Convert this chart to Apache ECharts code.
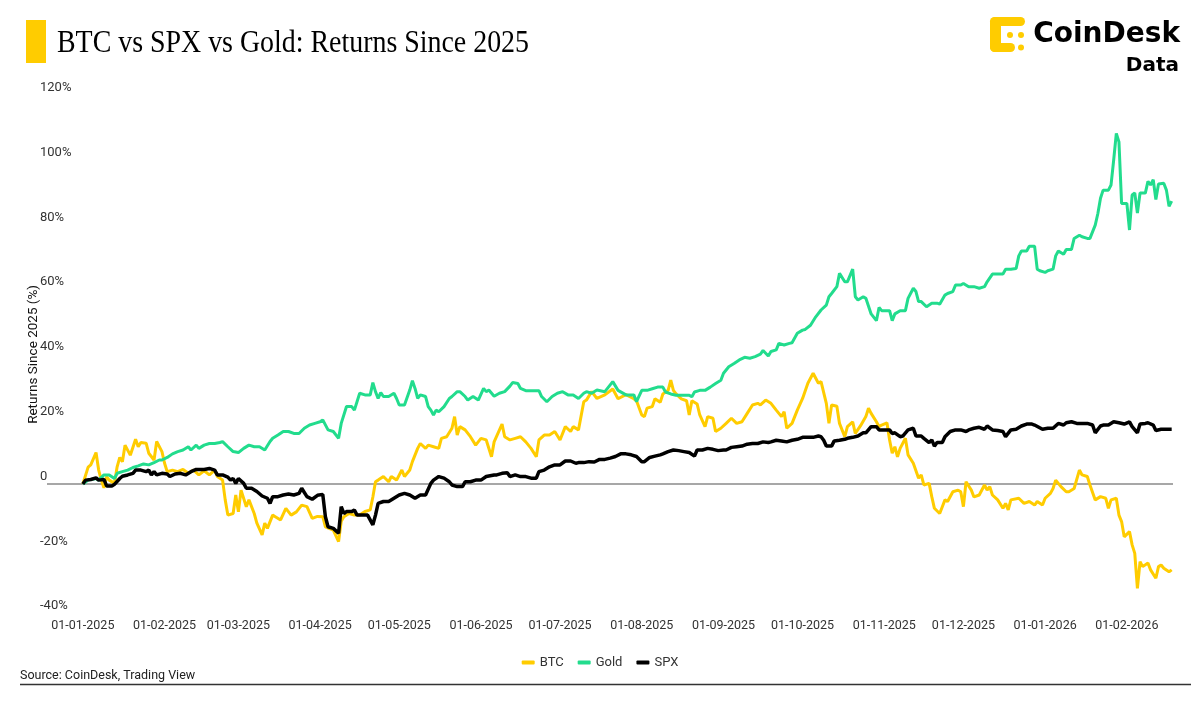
<!DOCTYPE html>
<html>
<head>
<meta charset="utf-8">
<script src="https://cdn.jsdelivr.net/npm/echarts@6.0.0/dist/echarts.min.js"></script>
<style>
  html, body { margin: 0; padding: 0; background: #ffffff; }
  #chart { width: 1200px; height: 709px; }
</style>
</head>
<body>
<div id="chart"></div>
<script>
// ---------- DATA (day offset since 01-01-2025, return %) ----------
const START_DATE = '2025-01-01';
const chartTitle = 'BTC vs SPX vs Gold: Returns Since 2025';
const seriesNames = ['BTC', 'Gold', 'SPX'];
const tickLabels = ['01-01-2025','01-02-2025','01-03-2025','01-04-2025','01-05-2025','01-06-2025','01-07-2025','01-08-2025','01-09-2025','01-10-2025','01-11-2025','01-12-2025','01-01-2026','01-02-2026'];
const yTicks = [-40, -20, 0, 20, 40, 60, 80, 100, 120];

const btc = [[0,0],[2,5.2],[3,5.9],[5,9.7],[6,4.3],[7,1.2],[8,-1.2],[9,2.3],[10,1.2],[12,0.2],[13,5.3],[14,8.2],[15,6.9],[16,12.0],[18,8.9],[20,13.8],[21,11.5],[22,12.8],[24,12.6],[25,9.5],[27,7.4],[28,13.1],[30,10.0],[31,6.4],[32,3.8],[34,4.3],[36,3.8],[38,4.5],[40,3.3],[42,4.3],[44,2.8],[46,4.1],[48,2.8],[50,4.3],[51,2.3],[53,1.2],[54,-4.9],[55,-9.6],[57,-9.1],[58,-3.4],[59,-8.6],[60,-1.9],[62,-7.0],[63,-4.9],[65,-9.1],[66,-12.1],[68,-15.7],[69,-12.1],[70,-13.7],[72,-9.6],[73,-10.1],[75,-11.1],[77,-7.5],[79,-9.6],[81,-8.6],[83,-6.5],[85,-7.0],[87,-10.6],[89,-10.0],[91,-10.1],[92,-13.2],[95,-14.2],[97,-17.8],[98,-11.5],[99,-10.1],[101,-9.1],[103,-9.6],[105,-9.6],[107,-8.5],[109,-8.0],[110,-4.0],[111,0.7],[112,1.2],[114,2.3],[116,0.7],[117,2.3],[119,1.2],[121,4.3],[122,2.3],[124,4.3],[125,6.9],[127,11.0],[128,12.5],[130,11.0],[131,12.0],[133,11.5],[135,11.0],[136,14.1],[138,14.6],[140,17.2],[141,20.8],[142,15.1],[143,17.7],[145,16.7],[147,14.6],[149,12.0],[151,14.1],[153,13.6],[155,8.4],[156,13.0],[159,18.5],[160,14.6],[162,13.6],[164,14.1],[166,14.6],[168,13.0],[170,11.0],[172,8.4],[173,13.6],[175,15.1],[177,15.1],[179,16.2],[181,13.6],[183,17.7],[185,16.2],[186,17.7],[188,16.7],[190,25.4],[191,25.9],[193,28.5],[195,26.4],[198,27.5],[201,29.3],[203,26.3],[206,27.6],[209,26.3],[210,25.7],[212,21.3],[213,20.8],[214,23.4],[216,23.9],[217,26.3],[219,25.2],[220,27.8],[222,28.9],[223,32.1],[224,28.9],[225,27.8],[227,26.3],[229,25.7],[230,21.3],[231,25.7],[233,24.7],[234,21.3],[236,17.7],[237,20.8],[239,20.3],[240,16.2],[242,17.2],[244,18.7],[246,20.3],[248,18.7],[250,19.2],[252,21.8],[254,24.4],[256,24.9],[257,24.4],[259,25.9],[261,24.9],[263,22.8],[265,20.8],[266,22.3],[267,17.2],[269,18.7],[271,22.8],[273,26.4],[275,31.1],[277,34.2],[279,31.1],[280,31.6],[282,24.9],[283,18.7],[284,24.4],[286,24.0],[287,18.7],[289,14.6],[290,17.7],[292,19.2],[293,15.6],[295,18.0],[297,20.8],[298,23.4],[299,21.8],[301,19.2],[302,17.7],[303,18.2],[305,18.9],[306,13.6],[307,9.5],[308,11.5],[309,8.4],[310,11.0],[312,14.1],[313,9.0],[315,6.4],[317,1.8],[318,2.8],[319,-0.3],[321,0.2],[322,-3.9],[323,-7.5],[325,-9.1],[326,-7.0],[327,-4.9],[328,-5.4],[330,-2.4],[332,-1.9],[333,-2.4],[334,-7.0],[335,0.7],[337,-1.9],[338,-4.0],[340,-3.4],[342,-0.3],[343,-1.9],[344,-0.8],[345,-3.4],[347,-4.9],[349,-7.5],[350,-6.0],[351,-8.0],[352,-4.9],[355,-4.4],[357,-6.0],[359,-5.4],[361,-6.5],[362,-5.4],[364,-6.5],[365,-4.4],[367,-2.9],[368,-1.4],[369,1.2],[371,-0.8],[373,-2.4],[374,-2.4],[376,-1.4],[378,4.3],[379,2.8],[381,2.3],[382,-0.3],[384,-4.9],[386,-3.9],[388,-4.4],[389,-7.5],[390,-4.9],[392,-4.4],[393,-9.6],[394,-11.6],[395,-16.3],[397,-14.7],[398,-18.8],[399,-21.4],[400,-32.2],[401,-24.0],[402,-25.5],[404,-24.4],[405,-26.5],[407,-29.1],[408,-25.5],[409,-25.0],[410,-26.0],[412,-27.1],[413,-26.5]];

const gold = [[0,0],[2,1.2],[5,1.7],[6,1.2],[8,2.8],[10,2.8],[12,1.7],[13,3.3],[15,3.8],[17,4.3],[19,5.1],[21,5.6],[23,6.2],[25,5.9],[27,6.6],[29,7.4],[30,7.4],[32,8.2],[34,9.3],[36,10.0],[38,10.5],[40,11.5],[41,10.5],[43,12.0],[44,11.0],[46,12.0],[48,12.5],[50,12.5],[52,12.8],[53,13.1],[55,11.5],[57,10.0],[59,9.7],[61,11.0],[63,12.0],[65,11.5],[67,11.5],[69,10.5],[71,13.1],[72,14.1],[74,15.1],[76,16.2],[78,16.2],[80,15.6],[82,15.6],[84,17.2],[86,18.2],[88,18.7],[90,19.2],[91,19.8],[93,16.7],[95,16.2],[97,14.1],[98,18.7],[100,23.9],[102,23.9],[103,22.8],[105,28.0],[107,27.5],[109,27.5],[110,31.3],[111,28.5],[112,26.4],[113,28.2],[114,27.0],[116,27.0],[118,28.0],[119,26.4],[120,24.4],[122,24.4],[124,29.0],[125,31.9],[126,29.5],[127,26.4],[128,27.5],[130,27.0],[131,23.9],[132,22.8],[133,21.3],[134,22.8],[135,22.3],[137,23.9],[139,26.4],[140,27.0],[142,28.5],[143,28.5],[145,27.0],[146,25.9],[148,27.0],[150,25.9],[152,29.5],[153,28.5],[154,29.0],[156,27.1],[158,28.0],[160,28.5],[162,30.2],[163,31.3],[165,31.0],[166,29.5],[168,28.8],[171,28.8],[173,28.8],[174,27.0],[176,25.4],[178,27.0],[180,28.0],[182,28.5],[184,27.5],[186,27.5],[188,26.4],[190,28.0],[191,28.5],[193,28.0],[195,29.0],[198,28.5],[201,31.6],[203,28.9],[206,27.5],[209,27.5],[210,25.4],[212,28.9],[214,28.9],[216,29.4],[218,29.9],[220,29.9],[221,28.4],[223,27.8],[225,27.4],[228,27.4],[230,27.4],[231,26.9],[232,28.4],[234,28.9],[236,28.9],[238,29.9],[240,31.0],[242,32.0],[243,34.2],[245,36.2],[247,37.2],[249,38.3],[251,39.1],[253,38.8],[255,39.3],[257,40.1],[258,41.2],[260,39.5],[261,40.9],[263,41.4],[264,43.4],[266,42.9],[268,43.4],[269,43.6],[271,46.5],[273,47.5],[274,47.7],[276,49.0],[278,51.6],[280,53.7],[282,55.2],[283,57.8],[284,58.8],[286,60.9],[287,65.0],[289,62.4],[290,62.4],[292,66.3],[293,57.8],[294,56.8],[296,57.8],[297,57.3],[299,52.5],[301,50.4],[302,54.5],[303,53.5],[306,53.5],[307,50.4],[308,52.5],[310,53.5],[312,53.5],[313,57.3],[315,60.4],[316,59.4],[317,56.3],[318,56.3],[320,54.7],[322,55.8],[324,55.8],[325,55.5],[327,58.3],[328,58.8],[330,59.4],[331,61.4],[333,61.4],[334,61.9],[336,60.9],[338,60.9],[340,60.4],[342,60.9],[343,62.4],[345,64.8],[347,64.8],[349,64.8],[350,66.3],[352,66.3],[354,66.5],[355,70.4],[356,71.9],[358,71.9],[359,73.4],[361,73.4],[362,66.3],[363,65.8],[365,65.3],[366,65.8],[368,66.3],[369,70.4],[370,71.9],[372,70.9],[373,72.4],[375,72.4],[376,75.8],[378,76.8],[379,76.3],[381,75.8],[382,75.8],[384,79.9],[385,83.5],[386,88.2],[387,90.7],[389,90.7],[390,92.3],[391,100.0],[392,108.2],[393,105.6],[394,86.6],[396,86.6],[397,78.4],[398,89.2],[399,89.8],[400,83.6],[401,89.8],[403,89.8],[404,93.4],[405,92.3],[406,93.9],[407,87.8],[408,92.6],[410,92.8],[411,90.7],[412,85.7],[413,87.3]];

const spx = [[0,0],[1,1.2],[3,1.4],[5,1.9],[6,1.2],[8,1.4],[9,-0.6],[11,-0.6],[12,-0.1],[14,1.7],[15,2.4],[17,2.8],[19,3.3],[20,4.3],[22,4.3],[24,3.8],[25,4.3],[26,2.8],[27,3.8],[28,2.8],[30,3.3],[32,3.1],[33,2.3],[35,3.1],[37,3.3],[39,2.8],[41,3.8],[43,4.5],[45,4.5],[46,4.5],[48,4.8],[50,4.3],[51,2.8],[53,2.8],[55,2.1],[56,1.2],[57,1.7],[58,0.2],[59,1.7],[61,0.2],[62,-1.3],[64,-1.3],[66,-2.3],[68,-3.7],[70,-4.4],[71,-6.0],[72,-3.9],[74,-3.9],[76,-3.4],[78,-3.1],[80,-3.4],[82,-2.9],[83,-1.3],[85,-3.9],[87,-4.7],[89,-3.5],[91,-3.2],[92,-10.1],[93,-13.2],[95,-13.7],[97,-15.2],[98,-7.0],[99,-9.1],[100,-8.5],[102,-8.5],[103,-8.0],[104,-9.6],[106,-9.6],[108,-9.6],[110,-12.6],[111,-9.6],[112,-6.0],[114,-5.4],[116,-5.4],[118,-4.4],[120,-3.4],[122,-2.9],[124,-3.4],[126,-4.4],[128,-3.4],[130,-3.4],[132,0.2],[133,1.2],[135,2.3],[137,1.8],[139,0.7],[140,-0.3],[142,-0.8],[144,-0.8],[145,0.7],[147,0.7],[149,1.2],[151,1.2],[153,2.3],[156,2.8],[157,2.8],[159,3.3],[161,3.5],[162,2.3],[164,2.8],[166,2.3],[168,2.3],[170,1.8],[172,1.8],[173,3.8],[175,4.3],[177,5.3],[179,5.9],[181,5.9],[183,7.1],[185,7.1],[187,6.4],[188,6.6],[190,6.6],[192,6.9],[194,6.8],[196,7.6],[198,7.6],[200,8.0],[202,8.5],[204,9.3],[206,9.3],[208,9.0],[210,8.5],[212,6.9],[213,6.9],[215,8.2],[217,8.6],[219,9.0],[220,9.3],[222,10.0],[224,10.5],[226,10.3],[228,10.0],[230,9.7],[232,8.6],[233,10.5],[235,10.5],[237,11.0],[239,10.7],[241,10.3],[243,10.5],[244,10.5],[246,11.3],[248,11.5],[250,11.7],[252,12.3],[254,12.5],[256,12.5],[258,13.0],[260,12.8],[261,13.0],[263,13.5],[265,13.3],[267,13.0],[269,13.5],[271,13.8],[273,14.4],[275,14.4],[277,14.4],[279,14.8],[280,14.6],[281,13.5],[282,11.7],[284,11.7],[285,13.3],[287,13.5],[289,13.8],[290,14.1],[292,14.4],[294,14.8],[296,15.8],[297,15.8],[299,17.7],[301,17.7],[302,16.7],[304,16.7],[306,16.7],[307,15.6],[308,15.8],[310,14.6],[311,14.8],[313,16.7],[315,17.2],[316,14.8],[318,14.8],[319,14.1],[321,12.8],[322,13.6],[323,11.7],[324,12.8],[326,12.8],[327,14.6],[329,16.2],[331,16.7],[333,16.7],[335,16.2],[336,16.7],[338,17.2],[340,17.5],[342,16.9],[343,17.9],[345,16.7],[347,16.5],[349,16.2],[350,14.6],[352,16.7],[354,16.9],[356,17.9],[358,18.5],[360,18.5],[361,18.2],[364,16.9],[366,17.2],[368,17.2],[370,18.7],[372,18.2],[373,18.9],[375,19.2],[377,18.7],[379,18.7],[381,18.7],[383,18.2],[384,15.8],[386,17.9],[387,18.2],[389,18.2],[391,19.2],[393,18.9],[395,18.5],[397,19.2],[398,17.7],[400,15.8],[401,18.5],[403,18.7],[404,18.9],[406,18.2],[407,16.5],[409,16.9],[411,16.9],[413,16.9]];

// ---------- helpers ----------
const DAY = 86400000;
const T0 = Date.parse(START_DATE + 'T00:00:00Z');
const parseLabel = s => { const [dd, mm, yy] = s.split('-'); return Math.round((Date.UTC(+yy, +mm - 1, +dd) - T0) / DAY); };
const tickDays = tickLabels.map(parseLabel);
const labelByDay = {};
tickDays.forEach((d, i) => { labelByDay[d] = tickLabels[i]; });
const lastDay = btc[btc.length - 1][0];

const colors = { BTC: '#ffcc00', Gold: '#22dc8d', SPX: '#000000' };
const zeroIdx = yTicks.indexOf(0);
const splitColors = yTicks.map((t, i) => i === zeroIdx ? '#8a8a8a' : 'rgba(0,0,0,0)');

const chart = echarts.init(document.getElementById('chart'), null, { renderer: 'canvas' });

const option = {
  backgroundColor: '#ffffff',
  animation: false,
  legend: {
    data: seriesNames,
    left: 'center', top: 651,
    icon: 'roundRect', itemWidth: 13, itemHeight: 4, itemGap: 14,
    textStyle: { fontFamily: 'Roboto', fontSize: 13, color: '#333333' }
  },
  grid: { left: 47, right: 27, top: 95.2, bottom: 95.4, containLabel: false },
  xAxis: {
    type: 'value',
    min: -13.6,
    max: lastDay + 0.5,
    axisLine: { show: false },
    axisTick: { show: false },
    splitLine: { show: false },
    axisLabel: {
      customValues: tickDays,
      formatter: v => labelByDay[Math.round(v)] || '',
      margin: 6,
      fontFamily: 'Roboto', fontSize: 12.5, color: '#333333',
      showMinLabel: true, showMaxLabel: true
    }
  },
  yAxis: {
    type: 'value',
    min: -40, max: 120, interval: 20,
    name: 'Returns Since 2025 (%)',
    nameLocation: 'middle', nameRotate: 90, nameGap: 6,
    nameMoveOverlap: false,
    nameTextStyle: { fontFamily: 'Roboto', fontSize: 13.5, color: '#111111' },
    axisLine: { show: false },
    axisTick: { show: false },
    splitLine: { show: true, lineStyle: { color: splitColors, width: 1.5 } },
    axisLabel: {
      align: 'left', verticalAlign: 'bottom', margin: 7,
      padding: [0, 0, 1, 0],
      fontFamily: 'Roboto', fontSize: 13, color: '#333333',
      formatter: v => v === 0 ? '0' : v + '%'
    }
  },
  series: [
    { name: 'BTC', type: 'line', data: btc, showSymbol: false, symbol: 'none',
      lineStyle: { color: colors.BTC, width: 3 }, itemStyle: { color: colors.BTC }, z: 2 },
    { name: 'Gold', type: 'line', data: gold, showSymbol: false, symbol: 'none',
      lineStyle: { color: colors.Gold, width: 3 }, itemStyle: { color: colors.Gold }, z: 3 },
    { name: 'SPX', type: 'line', data: spx, showSymbol: false, symbol: 'none',
      lineStyle: { color: colors.SPX, width: 3.5 }, itemStyle: { color: colors.SPX }, z: 4 }
  ],
  graphic: [
    { type: 'rect', shape: { x: 26, y: 20, width: 20, height: 43 }, style: { fill: '#ffcc00' } },
    { type: 'text', x: 57, y: 44, scaleX: 0.9, style: { text: chartTitle, x: 0, y: 0, align: 'left', verticalAlign: 'middle',
      font: '31px "Liberation Serif"', fill: '#000000' } },
    { type: 'group', children: [
      { type: 'rect', shape: { x: 990, y: 17, width: 35, height: 9, r: 4.5 }, style: { fill: '#ffcc00' } },
      { type: 'rect', shape: { x: 990, y: 17, width: 11, height: 35, r: 5.5 }, style: { fill: '#ffcc00' } },
      { type: 'rect', shape: { x: 990, y: 43, width: 25, height: 9, r: 4.5 }, style: { fill: '#ffcc00' } },
      { type: 'circle', shape: { cx: 1010, cy: 35, r: 3 }, style: { fill: '#ffcc00' } },
      { type: 'circle', shape: { cx: 1021, cy: 35, r: 3 }, style: { fill: '#ffcc00' } },
      { type: 'circle', shape: { cx: 1021, cy: 47.5, r: 3 }, style: { fill: '#ffcc00' } }
    ]},
    { type: 'text', style: { text: 'CoinDesk', x: 1180, y: 35, align: 'right', verticalAlign: 'middle',
      font: 'bold 28px "DejaVu Sans"', fill: '#000000' } },
    { type: 'text', style: { text: 'Data', x: 1179, y: 66, align: 'right', verticalAlign: 'middle',
      font: 'bold 20px "DejaVu Sans"', fill: '#000000' } },
    { type: 'text', style: { text: 'Source: CoinDesk, Trading View', x: 20, y: 676, align: 'left', verticalAlign: 'middle',
      font: '12.5px Roboto', fill: '#222222' } },
    { type: 'line', shape: { x1: 20, y1: 684.5, x2: 1191, y2: 684.5 }, style: { stroke: '#333333', lineWidth: 1.5 } }
  ]
};

chart.setOption(option);
</script>
</body>
</html>
